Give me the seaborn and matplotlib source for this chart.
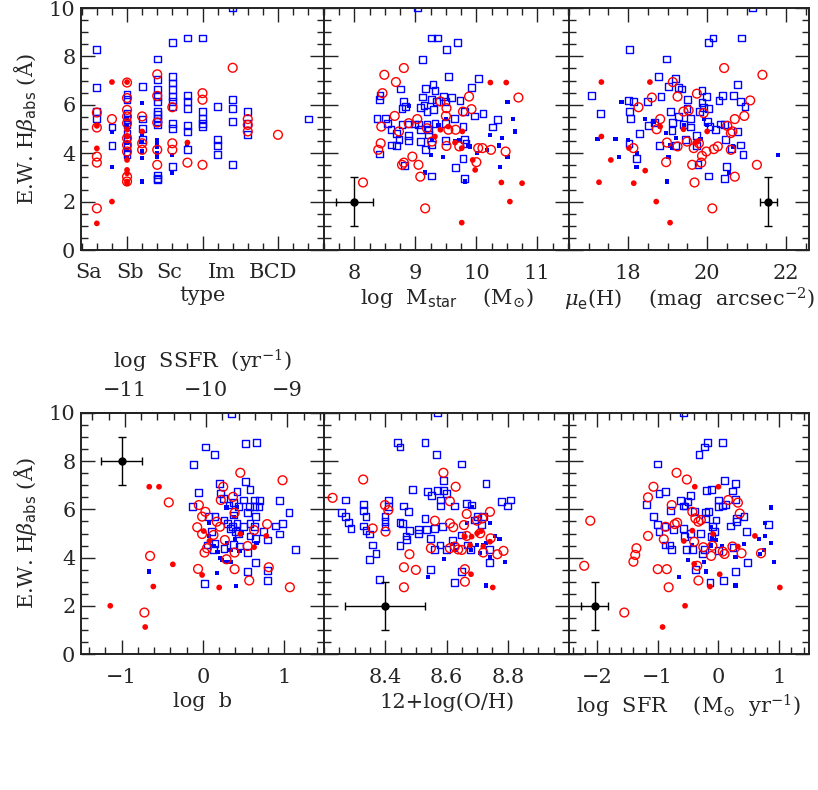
import numpy as np
import pandas as pd
import matplotlib
matplotlib.use('Agg')
import matplotlib.pyplot as plt
from matplotlib.ticker import MultipleLocator, FixedLocator
import seaborn as sns

# ---------------- data ----------------
# morphological type panel: x is the type column (Sa=1 ... BCD=13)
type_labels = ['Sa', 'Sb', 'Sc', 'Im', 'BCD']
type_label_pos = [0.47, 3.22, 5.82, 9.29, 12.67]

type_red_open = [(1, 5.68), (1, 5.06), (1, 3.86), (1, 3.61), (1, 1.72), (2, 5.41),
                 (3, 6.92), (3, 6.28), (3, 5.79), (3, 5.52), (3, 5.24), (3, 4.62), (3, 4.34),
                 (3, 4.07), (3, 3.03), (3, 2.83), (4, 5.52), (4, 4.41), (4, 4.14),
                 (5, 7.26), (5, 6.37), (5, 5.27), (5, 4.14), (5, 3.52), (6, 5.9), (6, 4.41),
                 (6, 4.14), (7, 3.61), (8, 6.48), (8, 6.21), (8, 3.52), (10, 7.53),
                 (11, 5.41), (11, 5.17), (11, 4.9), (13, 4.76)]
type_red_fill = [(1, 5.13), (1, 4.2), (1, 1.1), (2, 6.94), (2, 2.0), (3, 6.94), (3, 4.97),
                 (3, 4.69), (3, 3.72), (3, 3.31), (3, 3.17), (3, 2.83), (3, 2.76), (4, 4.9),
                 (7, 4.44)]
type_blue_open = [(1, 8.28), (1, 6.72), (1, 5.72), (1, 5.42), (2, 5.08), (2, 4.33),
                  (3, 6.41), (3, 6.21), (3, 5.66), (3, 5.38), (3, 5.17), (3, 4.83), (3, 4.55),
                  (3, 4.28), (3, 3.93), (4, 6.76), (4, 5.41), (4, 5.03), (4, 4.55),
                  (5, 7.89), (5, 7.03), (5, 6.65), (5, 6.34), (5, 6.14), (5, 5.72), (5, 5.59),
                  (5, 5.45), (5, 5.31), (5, 5.17), (5, 3.1), (5, 2.97), (5, 2.9),
                  (6, 8.59), (6, 7.17), (6, 6.9), (6, 6.62), (6, 6.34), (6, 6.14), (6, 5.93),
                  (6, 5.24), (6, 5.03), (6, 3.45), (7, 8.76), (7, 6.37), (7, 6.14), (7, 5.86),
                  (7, 5.13), (7, 4.9), (7, 4.14), (8, 8.76), (8, 5.72), (8, 5.45), (8, 5.24),
                  (8, 5.1), (9, 5.93), (9, 4.55), (9, 4.32), (9, 3.93), (10, 10.0), (10, 6.21),
                  (10, 5.86), (10, 5.31), (10, 3.52), (11, 5.72), (11, 5.24), (11, 4.76),
                  (15, 5.41)]
type_blue_fill = [(2, 4.88), (2, 3.43), (3, 5.45), (3, 5.1), (3, 4.69), (3, 4.41), (3, 4.14),
                  (3, 3.86), (4, 6.07), (4, 4.76), (4, 4.48), (4, 4.07), (4, 3.79), (4, 2.83),
                  (5, 4.55), (5, 4.41), (5, 4.28), (5, 4.0), (5, 3.86), (6, 3.93), (6, 3.17),
                  (7, 4.39)]

# log M_star panel
mstar_red_open = [(8.14, 2.79), (8.49, 7.24), (8.68, 6.94), (8.81, 7.52), (8.46, 6.48),
                  (8.44, 5.1), (8.43, 4.41), (8.39, 4.14), (8.66, 5.54), (8.73, 4.9),
                  (8.89, 5.24), (9.03, 5.41), (8.95, 3.86), (8.81, 3.61), (8.78, 3.52),
                  (9.05, 3.52), (9.08, 3.03), (9.16, 1.72), (9.19, 5.03), (9.27, 4.48),
                  (9.41, 6.14), (9.51, 5.86), (9.5, 5.54), (9.54, 4.97), (9.51, 4.3),
                  (9.66, 4.97), (9.78, 5.72), (9.88, 6.34), (9.92, 5.82), (9.72, 4.28),
                  (10.0, 3.63), (10.03, 4.21), (10.1, 4.21), (10.24, 4.14), (10.48, 4.07),
                  (10.69, 6.3)]
mstar_red_fill = [(10.23, 6.92), (10.49, 6.92), (9.41, 4.97), (9.32, 4.69), (9.54, 5.1),
                  (9.65, 4.44), (9.77, 4.9), (9.76, 4.21), (9.94, 3.72), (9.98, 3.31),
                  (10.41, 2.79), (10.75, 2.76), (10.55, 2.0), (9.76, 1.13)]
mstar_blue_open = [(9.04, 10.0), (9.27, 8.76), (9.36, 8.76), (9.69, 8.58), (9.51, 8.28),
                   (9.11, 7.86), (9.54, 7.17), (10.03, 7.08), (9.92, 6.73), (9.29, 6.83),
                   (9.16, 6.69), (9.32, 6.59), (8.76, 6.65), (8.42, 6.39), (8.41, 6.21),
                   (9.11, 6.32), (9.27, 6.21), (9.46, 6.34), (9.59, 6.3), (9.73, 6.18),
                   (9.5, 6.14), (8.81, 6.14), (8.78, 5.86), (8.84, 5.93), (9.08, 5.9),
                   (9.14, 5.96), (9.35, 6.14), (9.19, 5.72), (9.3, 5.79), (9.81, 5.72),
                   (9.97, 5.54), (10.11, 5.63), (10.35, 5.38), (10.27, 5.08), (8.37, 5.42),
                   (8.51, 5.45), (8.54, 5.24), (8.78, 5.17), (8.89, 5.21), (8.99, 5.21),
                   (9.05, 5.17), (9.08, 4.97), (9.19, 5.21), (9.22, 4.97), (9.22, 4.76),
                   (9.32, 5.24), (9.49, 5.24), (9.64, 5.42), (9.78, 5.1), (8.6, 4.97),
                   (8.69, 4.83), (8.73, 4.55), (8.89, 4.72), (8.89, 4.52), (9.08, 4.48),
                   (9.27, 4.37), (8.61, 4.34), (8.69, 4.32), (8.41, 3.97), (9.16, 4.14),
                   (9.49, 4.52), (9.81, 4.55), (9.83, 4.41), (9.78, 3.79), (9.66, 3.42),
                   (9.27, 3.06), (8.82, 3.48), (9.81, 2.97)]
mstar_blue_fill = [(9.5, 5.41), (8.89, 5.96), (9.38, 5.17), (9.45, 3.83), (9.26, 3.93),
                   (9.16, 3.2), (9.27, 4.58), (9.72, 4.55), (9.86, 4.3), (9.9, 4.28),
                   (10.01, 4.0), (10.17, 4.14), (10.22, 4.76), (10.42, 4.62), (10.37, 4.32),
                   (10.51, 6.1), (10.6, 5.42), (10.63, 4.9), (10.51, 3.83), (10.39, 3.42),
                   (9.82, 2.83), (9.65, 4.52)]

# mu_e(H) panel
mu_red_open = [(18.26, 5.9), (18.13, 4.21), (18.6, 6.3), (18.72, 4.99), (18.81, 5.41),
               (18.96, 3.63), (18.98, 4.44), (19.13, 6.94), (19.25, 6.34), (19.25, 4.28),
               (19.4, 5.72), (19.49, 4.48), (19.53, 5.77), (19.66, 4.21), (19.68, 2.79),
               (19.74, 6.46), (19.62, 3.52), (19.85, 3.61), (19.87, 3.89), (19.91, 5.66),
               (19.98, 4.07), (19.79, 4.41), (20.13, 1.72), (20.17, 4.17), (20.27, 4.28),
               (20.43, 7.52), (20.51, 5.13), (20.6, 4.14), (20.64, 4.9), (20.7, 5.41),
               (20.7, 3.03), (20.94, 5.54), (21.09, 6.18), (21.26, 3.52), (21.4, 7.24),
               (20.6, 4.83)]
mu_red_fill = [(17.32, 6.94), (18.55, 6.94), (17.32, 4.69), (18.02, 4.21), (17.56, 3.72),
               (18.43, 3.28), (17.26, 2.8), (18.14, 2.76), (18.71, 2.0), (19.06, 1.13),
               (18.81, 5.1), (19.4, 4.99), (19.7, 4.44), (20.0, 4.9), (19.76, 4.48)]
mu_blue_open = [(21.15, 10.0), (20.04, 8.59), (20.15, 8.76), (20.88, 8.76), (18.04, 8.28),
                (18.98, 7.89), (18.77, 7.17), (19.19, 7.08), (19.02, 6.76), (19.28, 6.73),
                (19.36, 6.65), (20.77, 6.83), (17.06, 6.39), (18.01, 6.18), (18.14, 6.14),
                (18.49, 6.14), (18.83, 6.34), (19.51, 6.21), (19.87, 6.59), (19.98, 6.34),
                (20.38, 6.37), (20.3, 6.18), (20.66, 6.37), (20.85, 6.14), (20.96, 5.93),
                (19.87, 6.1), (19.91, 5.9), (20.04, 5.86), (17.3, 5.63), (18.04, 5.72),
                (18.06, 5.42), (19.08, 5.72), (19.28, 5.52), (19.49, 5.86), (19.81, 5.72),
                (19.57, 5.45), (20.0, 5.31), (18.51, 5.13), (18.66, 5.27), (19.13, 5.28),
                (19.4, 5.17), (19.57, 5.08), (20.07, 5.1), (20.21, 4.97), (20.34, 5.21),
                (20.43, 5.17), (20.77, 4.9), (18.28, 4.8), (19.11, 4.94), (18.79, 4.32),
                (19.19, 4.32), (19.45, 4.55), (19.74, 4.72), (19.74, 4.32), (18.02, 4.41),
                (18.21, 3.79), (19.77, 3.52), (20.04, 3.06), (20.43, 2.97), (20.49, 3.45),
                (20.47, 4.55), (20.61, 4.21), (20.85, 4.34), (20.91, 3.96)]
mu_blue_fill = [(17.22, 4.58), (17.68, 4.58), (17.77, 3.83), (17.83, 6.1), (18.0, 4.55),
                (18.23, 4.0), (18.21, 3.42), (18.43, 5.42), (18.64, 5.28), (18.96, 4.83),
                (19.02, 3.83), (18.99, 2.83), (19.06, 4.32), (19.21, 4.62), (19.11, 4.21),
                (19.42, 5.17), (19.83, 4.58), (19.91, 5.41), (20.55, 3.2), (20.66, 4.28),
                (21.8, 3.93), (20.0, 5.17)]

# log b panel (top axis: log SSFR)
logb_red_open = [(-0.72, 1.72), (-0.65, 4.07), (-0.42, 6.29), (-0.06, 3.53), (-0.07, 5.26),
                 (-0.05, 6.18), (-0.01, 5.7), (-0.01, 4.98), (0.03, 5.9), (0.02, 4.21),
                 (0.05, 4.39), (0.13, 4.94), (0.17, 5.49), (0.21, 5.28), (0.25, 6.94),
                 (0.22, 6.39), (0.27, 4.73), (0.29, 3.93), (0.37, 6.52), (0.39, 5.86),
                 (0.39, 3.52), (0.39, 4.21), (0.46, 7.52), (0.55, 4.48), (0.57, 3.05),
                 (0.63, 5.14), (0.79, 5.39), (0.81, 3.6), (0.98, 7.21), (1.07, 2.77)]
logb_red_fill = [(-1.14, 2.0), (-0.71, 1.12), (-0.61, 2.8), (-0.66, 6.94), (-0.54, 6.94),
                 (-0.37, 3.72), (-0.01, 3.28), (0.01, 5.1), (0.08, 4.69), (0.2, 2.76),
                 (0.46, 4.98), (0.63, 4.43), (0.78, 4.9)]
logb_blue_open = [(0.35, 9.97), (0.03, 8.59), (0.14, 8.29), (0.52, 8.73), (0.66, 8.76),
                  (-0.12, 7.86), (0.2, 7.08), (0.52, 7.17), (0.58, 6.83), (-0.05, 6.7),
                  (-0.13, 6.11), (0.22, 6.66), (0.25, 6.46), (0.32, 6.18), (0.38, 6.28),
                  (0.42, 6.74), (0.5, 6.39), (0.44, 6.11), (0.57, 6.11), (0.63, 6.39),
                  (0.7, 6.36), (0.63, 6.11), (0.55, 5.86), (0.69, 6.11), (0.94, 6.36),
                  (1.06, 5.86), (0.07, 5.7), (0.15, 5.7), (0.38, 5.77), (0.26, 5.56),
                  (0.3, 5.42), (0.36, 5.28), (0.42, 5.42), (0.5, 5.28), (0.58, 5.42),
                  (0.65, 5.7), (0.63, 5.28), (0.58, 4.9), (0.75, 5.08), (0.89, 5.31),
                  (0.98, 5.42), (0.94, 4.98), (0.79, 4.73), (0.65, 4.8), (0.11, 5.08),
                  (0.15, 4.57), (0.05, 4.52), (0.13, 4.32), (0.26, 4.39), (0.34, 5.21),
                  (0.38, 4.55), (0.44, 5.01), (0.45, 4.48), (0.55, 4.21), (0.65, 3.79),
                  (0.55, 3.43), (0.79, 3.45), (0.79, 3.05), (0.02, 2.94), (1.14, 4.34),
                  (0.4, 5.08)]
logb_blue_fill = [(-0.66, 3.42), (0.08, 5.42), (0.08, 4.9), (0.17, 3.35), (0.13, 4.48),
                  (0.18, 4.22), (0.21, 4.0), (0.24, 3.9), (0.28, 3.83), (0.34, 3.83),
                  (0.3, 4.59), (0.34, 4.32), (0.39, 4.76), (0.41, 2.83), (0.45, 4.29),
                  (0.42, 6.11), (0.29, 6.08), (0.38, 5.67), (0.48, 5.01), (0.66, 4.59)]

# 12+log(O/H) panel
oh_red_open = [(8.228, 6.48), (8.328, 7.24), (8.359, 5.21), (8.399, 6.18), (8.401, 5.08),
               (8.41, 5.97), (8.479, 4.14), (8.461, 3.6), (8.5, 3.49), (8.461, 2.77),
               (8.549, 4.39), (8.562, 5.53), (8.59, 7.52), (8.611, 6.34), (8.63, 6.94),
               (8.611, 5.42), (8.622, 5.26), (8.611, 4.39), (8.627, 4.46), (8.638, 4.34),
               (8.65, 4.32), (8.657, 5.35), (8.666, 4.9), (8.666, 5.81), (8.66, 3.52),
               (8.66, 3.0), (8.71, 5.01), (8.72, 4.21), (8.742, 5.9), (8.744, 4.8),
               (8.766, 4.14), (8.786, 4.28), (8.717, 5.63), (8.7, 5.53)]
oh_red_fill = [(8.66, 4.87), (8.677, 4.52), (8.7, 5.01), (8.713, 5.1), (8.742, 4.66),
               (8.72, 4.46), (8.68, 3.31), (8.751, 2.76), (8.682, 4.87)]
oh_blue_open = [(8.57, 10.0), (8.44, 8.76), (8.448, 8.59), (8.53, 8.76), (8.568, 8.29),
                (8.65, 7.88), (8.729, 7.08), (8.49, 6.83), (8.537, 6.73), (8.551, 6.59),
                (8.57, 6.77), (8.59, 6.8), (8.59, 7.19), (8.6, 6.66), (8.581, 6.39),
                (8.581, 6.14), (8.627, 6.14), (8.666, 6.25), (8.682, 6.18), (8.269, 6.39),
                (8.328, 6.21), (8.328, 5.97), (8.337, 5.72), (8.258, 5.88), (8.269, 5.72),
                (8.28, 5.45), (8.288, 5.21), (8.328, 5.31), (8.337, 5.12), (8.348, 4.98),
                (8.359, 4.52), (8.37, 4.18), (8.348, 3.93), (8.41, 6.39), (8.41, 6.11),
                (8.399, 5.7), (8.399, 5.49), (8.399, 5.28), (8.459, 6.14), (8.475, 5.9),
                (8.448, 5.45), (8.457, 5.42), (8.479, 5.14), (8.468, 4.9), (8.47, 4.76),
                (8.448, 4.5), (8.508, 5.17), (8.508, 5.0), (8.535, 5.17), (8.53, 5.63),
                (8.549, 4.8), (8.561, 5.21), (8.56, 4.32), (8.579, 4.52), (8.6, 4.34),
                (8.587, 5.28), (8.62, 4.73), (8.65, 4.94), (8.668, 4.52), (8.678, 4.32),
                (8.691, 5.56), (8.7, 5.72), (8.713, 5.35), (8.722, 5.72), (8.74, 4.32),
                (8.74, 3.79), (8.78, 6.32), (8.8, 6.14), (8.81, 6.39), (8.549, 3.49),
                (8.627, 2.97), (8.65, 3.42), (8.38, 3.08)]
oh_blue_fill = [(8.682, 6.11), (8.668, 5.45), (8.742, 5.42), (8.758, 4.91), (8.773, 4.77),
                (8.729, 4.62), (8.72, 4.52), (8.7, 4.52), (8.68, 4.32), (8.63, 4.32),
                (8.622, 4.57), (8.71, 4.18), (8.742, 4.04), (8.791, 3.83), (8.729, 2.84),
                (8.591, 3.93), (8.539, 3.19)]

# log SFR panel
sfr_red_open = [(-2.21, 3.66), (-2.11, 5.53), (-1.55, 1.72), (-1.4, 3.83), (-1.37, 4.11),
                (-1.35, 4.39), (-1.16, 4.9), (-1.16, 6.5), (-1.07, 6.94), (-1.0, 3.52),
                (-0.9, 4.76), (-0.87, 5.28), (-0.85, 3.52), (-0.82, 2.77), (-0.77, 6.18),
                (-0.72, 5.39), (-0.69, 7.52), (-0.68, 5.45), (-0.52, 7.24), (-0.43, 5.9),
                (-0.4, 4.66), (-0.38, 5.63), (-0.35, 3.66), (-0.33, 3.05), (-0.33, 5.49),
                (-0.29, 5.56), (-0.25, 4.43), (-0.12, 4.07), (-0.1, 4.49), (0.07, 4.25),
                (0.1, 4.15), (0.16, 6.39), (0.23, 4.46), (0.32, 6.28), (0.35, 5.83),
                (0.38, 4.18), (0.7, 4.18)]
sfr_red_fill = [(-0.92, 1.12), (-0.55, 2.0), (-0.57, 4.69), (-0.43, 5.12), (-0.4, 3.74),
                (-0.39, 6.94), (-0.14, 2.8), (-0.09, 4.98), (0.0, 6.94), (0.02, 3.31),
                (0.32, 4.46), (0.6, 4.9), (1.01, 2.76)]
sfr_blue_open = [(-0.58, 10.0), (-1.0, 7.88), (-0.18, 8.76), (-0.23, 8.59), (-0.32, 8.29),
                 (0.06, 8.76), (-1.19, 6.21), (-0.98, 6.66), (-0.87, 6.73), (-0.79, 5.94),
                 (-1.07, 5.72), (-1.0, 5.39), (-0.98, 5.08), (-0.88, 4.52), (-0.8, 4.52),
                 (-0.77, 4.32), (-0.88, 5.28), (-0.74, 5.17), (-0.62, 6.36), (-0.58, 6.14),
                 (-0.55, 6.14), (-0.46, 6.59), (-0.5, 6.32), (-0.39, 5.9), (-0.58, 5.21),
                 (-0.56, 4.87), (-0.46, 5.01), (-0.52, 4.34), (-0.38, 3.49), (-0.29, 5.01),
                 (-0.21, 5.63), (-0.21, 5.86), (-0.16, 5.9), (-0.2, 6.77), (-0.11, 6.83),
                 (-0.1, 5.28), (-0.07, 5.08), (-0.04, 5.56), (0.0, 6.39), (0.0, 6.11),
                 (0.07, 6.14), (0.12, 6.22), (0.1, 7.19), (0.28, 7.08), (0.23, 6.76),
                 (0.28, 6.41), (0.2, 5.31), (0.3, 5.63), (0.3, 5.49), (0.42, 5.72),
                 (0.46, 5.08), (0.24, 4.43), (-0.23, 4.34), (-0.26, 4.15), (-0.14, 2.97),
                 (0.08, 3.05), (0.28, 3.42), (0.48, 3.81), (0.83, 5.38), (-0.12, 4.87),
                 (0.0, 4.29), (-0.43, 4.34)]
sfr_blue_fill = [(-0.65, 3.19), (-0.5, 3.9), (-0.43, 4.52), (-0.24, 3.81), (-0.21, 3.42),
                 (-0.12, 4.5), (-0.11, 4.8), (0.06, 4.48), (0.28, 4.04), (0.28, 2.84),
                 (0.42, 4.55), (0.67, 4.76), (0.76, 4.9), (0.76, 5.42), (0.86, 6.08),
                 (0.86, 4.62), (0.92, 3.83), (0.68, 4.15), (0.75, 4.32), (-0.12, 5.28),
                 (-0.04, 4.73)]

# typical error bars: (x, y, xerr, yerr)
err_mstar = (8.0, 2.0, 0.3, 1.0)
err_mu = (21.55, 2.0, 0.22, 1.0)
err_logb = (-1.0, 8.0, 0.25, 1.0)
err_oh = (8.4, 2.0, 0.13, 1.0)
err_sfr = (-2.04, 2.0, 0.23, 1.0)

# ---------------- style ----------------
sns.set_style('ticks')
plt.rcParams['font.family'] = ['DejaVu Serif']
plt.rcParams['mathtext.fontset'] = 'dejavuserif'
plt.rcParams['axes.linewidth'] = 1.4
plt.rcParams['axes.edgecolor'] = '#222222'

FS = 15

STYLES = {
    'ro': dict(marker='o', s=40, color='red', facecolor='none', edgecolor='red', linewidth=1.0, zorder=3),
    'rf': dict(marker='o', s=17, color='red', edgecolor='none', zorder=3),
    'bo': dict(marker='s', s=24, color='blue', facecolor='none', edgecolor='blue', linewidth=1.0, zorder=2),
    'bf': dict(marker='s', s=9, color='blue', edgecolor='none', zorder=2),
}

W, H = 818, 790


def box(l, t, r, b):
    return [l / W, 1 - b / H, (r - l) / W, (b - t) / H]


def draw_points(ax, ro, rf, bo, bf):
    for key, pts in (('bo', bo), ('bf', bf), ('ro', ro), ('rf', rf)):
        df = pd.DataFrame(pts, columns=['x', 'y'])
        sns.scatterplot(data=df, x='x', y='y', ax=ax, legend=False, **STYLES[key])


def draw_err(ax, e):
    ax.errorbar([e[0]], [e[1]], xerr=[e[2]], yerr=[e[3]], fmt='o', color='black',
                ms=5, elinewidth=1.0, capsize=3, capthick=1.0, zorder=4)


def style_axes(ax, xlim, xmaj, xmin, left=False, top=True):
    ax.set_xlim(*xlim)
    ax.set_ylim(0, 10)
    ax.xaxis.set_major_locator(xmaj)
    ax.xaxis.set_minor_locator(xmin)
    ax.yaxis.set_major_locator(MultipleLocator(2))
    ax.yaxis.set_minor_locator(MultipleLocator(0.5))
    ax.tick_params(which='both', direction='in', top=top, right=True,
                   width=1.0, color='#222222', labelsize=FS, labelleft=left)
    ax.tick_params(axis='x', which='both', pad=10)
    ax.tick_params(axis='y', which='both', pad=4)
    ax.tick_params(which='major', length=10)
    ax.tick_params(which='minor', length=5)
    if left:
        ax.set_ylabel(r'E.W. H$\beta_{\mathsf{abs}}$ (Å)', fontsize=FS, labelpad=7)
    else:
        ax.set_ylabel('')


fig = plt.figure(figsize=(8.18, 7.9), dpi=100)

# ----- top row -----
ax1 = fig.add_axes(box(81, 8, 324, 250))
draw_points(ax1, type_red_open, type_red_fill, type_blue_open, type_blue_fill)
style_axes(ax1, (-0.05, 16.05), FixedLocator([3, 8, 13]), MultipleLocator(1), left=True)
ax1.tick_params(axis='x', labelbottom=False)
for lab, pos in zip(type_labels, type_label_pos):
    ax1.text(pos, -0.095, lab, transform=ax1.get_xaxis_transform(),
             ha='center', va='center', fontsize=FS)
ax1.set_xlabel('type', fontsize=FS, labelpad=16)

ax2 = fig.add_axes(box(324, 8, 569, 250))
draw_points(ax2, mstar_red_open, mstar_red_fill, mstar_blue_open, mstar_blue_fill)
draw_err(ax2, err_mstar)
style_axes(ax2, (7.5, 11.52), MultipleLocator(1), MultipleLocator(0.25))
ax2.set_xlabel(r'log  M$_{\mathsf{star}}$    (M$_{\odot}$)', fontsize=FS, labelpad=2)

ax3 = fig.add_axes(box(569, 8, 809, 250))
draw_points(ax3, mu_red_open, mu_red_fill, mu_blue_open, mu_blue_fill)
draw_err(ax3, err_mu)
style_axes(ax3, (16.5, 22.58), FixedLocator([18, 20, 22]), MultipleLocator(0.5))
ax3.set_xlabel(r'$\mu_{\mathsf{e}}$(H)    (mag  arcsec$^{-2}$)', fontsize=FS, labelpad=2)

# ----- bottom row -----
ax4 = fig.add_axes(box(81, 413, 324, 654))
draw_points(ax4, logb_red_open, logb_red_fill, logb_blue_open, logb_blue_fill)
draw_err(ax4, err_logb)
style_axes(ax4, (-1.5, 1.49), MultipleLocator(1), MultipleLocator(0.2), left=True, top=False)
ax4.set_xlabel('log  b', fontsize=FS, labelpad=4)
sec = ax4.secondary_xaxis('top', functions=(lambda v: v - 10.04, lambda v: v + 10.04))
sec.xaxis.set_major_locator(FixedLocator([-11, -10, -9]))
sec.xaxis.set_minor_locator(MultipleLocator(0.2))
sec.tick_params(which='both', direction='in', width=1.0, color='#222222', labelsize=FS, pad=9)
sec.tick_params(which='major', length=10)
sec.tick_params(which='minor', length=5)
sec.set_xlabel(r'log  SSFR  (yr$^{-1}$)', fontsize=FS, labelpad=9)

ax5 = fig.add_axes(box(324, 413, 569, 654))
draw_points(ax5, oh_red_open, oh_red_fill, oh_blue_open, oh_blue_fill)
draw_err(ax5, err_oh)
style_axes(ax5, (8.2, 9.0), FixedLocator([8.4, 8.6, 8.8]), MultipleLocator(0.05))
ax5.set_xlabel('12+log(O/H)', fontsize=FS, labelpad=4)

ax6 = fig.add_axes(box(569, 413, 809, 654))
draw_points(ax6, sfr_red_open, sfr_red_fill, sfr_blue_open, sfr_blue_fill)
draw_err(ax6, err_sfr)
style_axes(ax6, (-2.46, 1.49), MultipleLocator(1), MultipleLocator(0.2))
ax6.set_xlabel(r'log  SFR    (M$_{\odot}$  yr$^{-1}$)', fontsize=FS, labelpad=4)

fig.savefig('out.png', dpi=100)
